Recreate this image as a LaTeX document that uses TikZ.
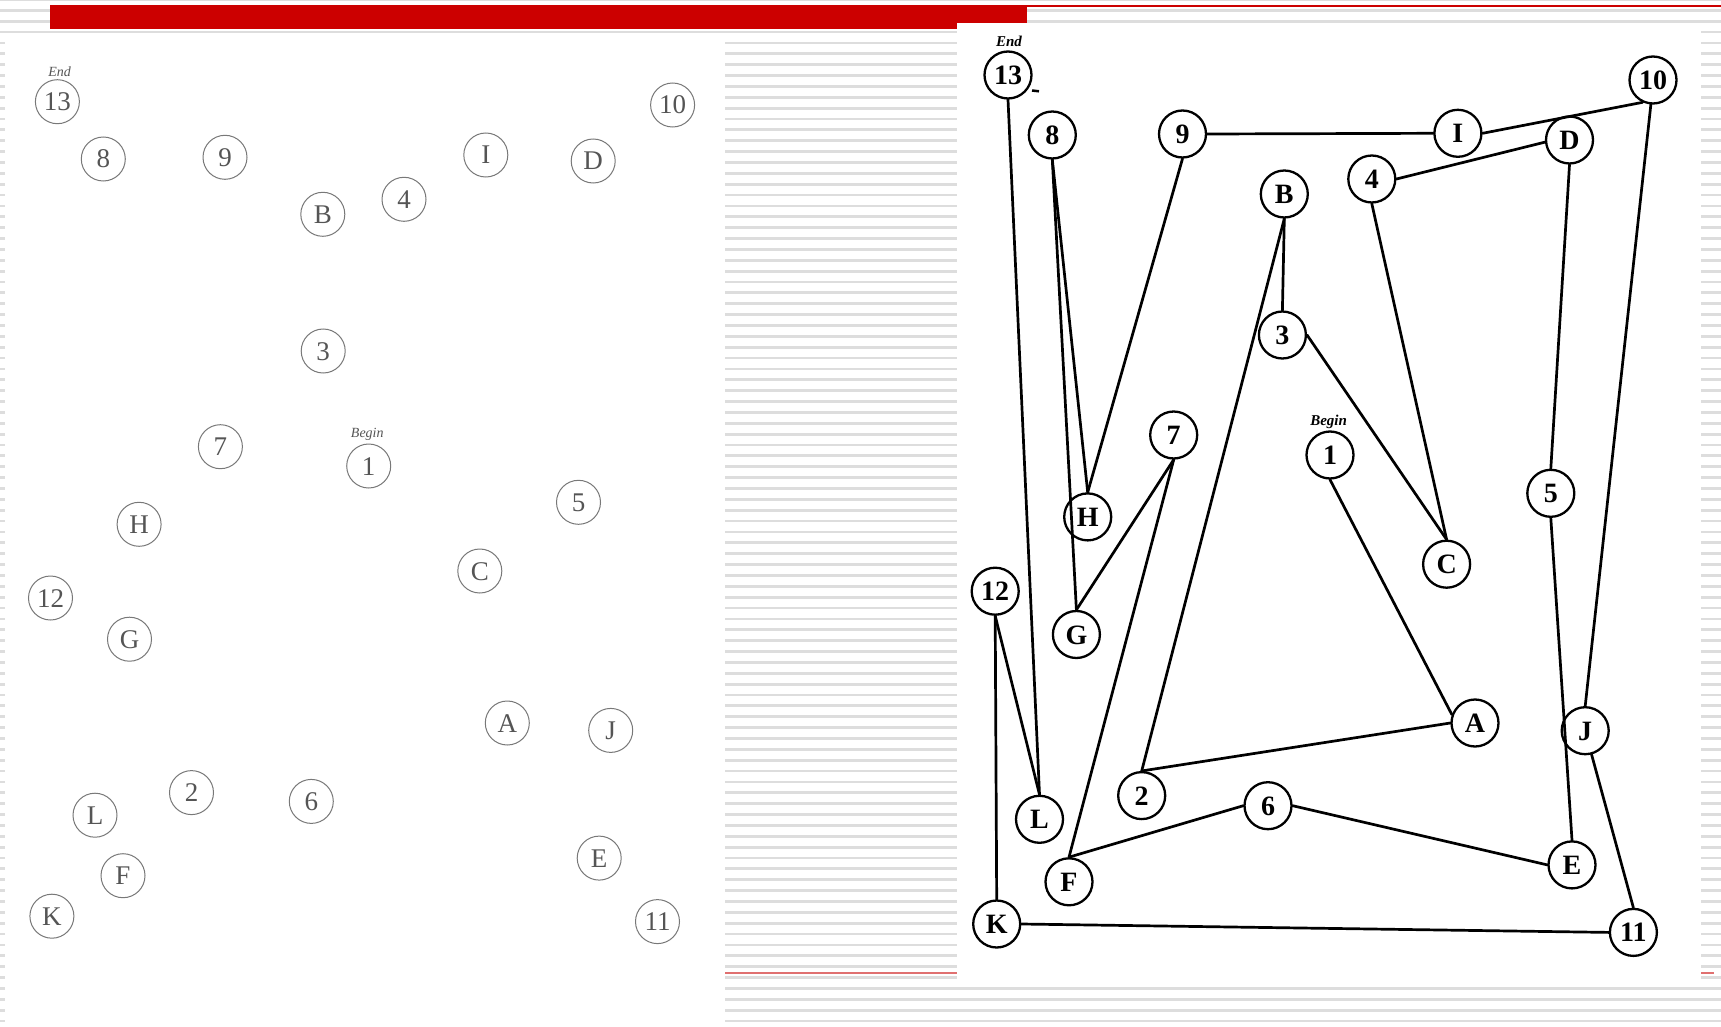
\documentclass[tikz,border=0pt]{standalone}
\usepackage{fontspec}
\setmainfont{Liberation Serif}
\definecolor{slidered}{RGB}{204,0,0}
\definecolor{thinred}{RGB}{224,112,112}
\definecolor{stripegray}{RGB}{221,221,221}
\definecolor{lgray}{RGB}{120,120,120}
\definecolor{ltext}{RGB}{85,85,85}
\begin{document}
\begin{tikzpicture}[x=1pt,y=-1pt,
  lnode/.style={circle, draw=lgray, line width=1pt, minimum size=44pt, inner sep=0pt,
    text=ltext, font=\fontsize{27}{27}\selectfont, text height=18pt, text depth=0pt},
  rnode/.style={circle, draw=black, fill=white, line width=2.3pt, minimum size=47pt, inner sep=0pt,
    font=\fontsize{28}{28}\selectfont\bfseries, text height=19pt, text depth=0pt},
  llabel/.style={inner sep=0pt, text=ltext, font=\fontsize{14}{14}\selectfont\itshape},
  rlabel/.style={inner sep=0pt, font=\fontsize{15}{15}\selectfont\bfseries\itshape},
  edge/.style={line width=2.7pt, line cap=round},
  stripe/.style={line width=2.8pt, draw=stripegray},
]
\useasboundingbox (0,0) rectangle (1721,1027);
\fill[white] (0,0) rectangle (1721,1027);
% striped slide background
\foreach \k in {-1,...,94} {
  \draw[stripe] (0,{10.3+10.868*\k}) -- (1721,{10.3+10.868*\k});
}
% red title bar and thin red rules
\draw[slidered, line width=1.8pt] (1000,5.8) -- (1721,5.8);
\fill[slidered] (50,5) rectangle (1027,29);
\draw[thinred, line width=1.7pt] (725,972.7) -- (1714,972.7);
% panels
\fill[white] (5,34) rectangle (725,1027);
\fill[white] (957,23.3) rectangle (1701,983);

% ---------- left panel ----------
\node[llabel] (lend) at (59.7,71.7) {End};
\node[llabel] (lbegin) at (367.3,434.3) {Begin};
\node[lnode] (l13) at (57.4,101.7) {13};
\node[lnode] (l10) at (672.6,105) {10};
\node[lnode] (l8) at (103.3,159) {8};
\node[lnode] (l9) at (225,157.3) {9};
\node[lnode] (lI) at (485.8,155) {I};
\node[lnode] (lD) at (593.2,161) {D};
\node[lnode] (lB) at (322.8,214.3) {B};
\node[lnode] (l4) at (404,199.3) {4};
\node[lnode] (l3) at (323.2,351) {3};
\node[lnode] (l7) at (220.4,446.7) {7};
\node[lnode] (l1) at (368.7,466) {1};
\node[lnode] (l5) at (578.5,502.3) {5};
\node[lnode] (lH) at (139.1,524.3) {H};
\node[lnode] (lC) at (479.8,571) {C};
\node[lnode] (l12) at (50.5,598) {12};
\node[lnode] (lG) at (129.5,639.2) {G};
\node[lnode] (lA) at (507.3,723) {A};
\node[lnode] (lJ) at (610.7,730.4) {J};
\node[lnode] (l2) at (191.5,792.6) {2};
\node[lnode] (l6) at (311.3,801.4) {6};
\node[lnode] (lL) at (95,815.2) {L};
\node[lnode] (lF) at (123,875.7) {F};
\node[lnode] (lE) at (599.2,858.1) {E};
\node[lnode] (lK) at (51.9,916.2) {K};
\node[lnode] (l11) at (657.5,921.6) {11};

% ---------- right panel ----------
\node[rlabel] (rend) at (1009,41.7) {End};
\node[rlabel] (rbegin) at (1328.6,421.7) {Begin};
\node[rnode] (r13) at (1008,75) {13};
\node[rnode] (r10) at (1653,80) {10};
\node[rnode] (r8) at (1052.3,135) {8};
\node[rnode] (r9) at (1182.5,134) {9};
\node[rnode] (rI) at (1457.9,133.3) {I};
\node[rnode] (rD) at (1569.5,140) {D};
\node[rnode] (r4) at (1371.8,179) {4};
\node[rnode] (rB) at (1284.3,194) {B};
\node[rnode] (r3) at (1282.4,335) {3};
\node[rnode] (r7) at (1173.7,435) {7};
\node[rnode] (r1) at (1330,455) {1};
\node[rnode] (r5) at (1550.8,493.3) {5};
\node[rnode] (rH) at (1087.7,516.9) {H};
\node[rnode] (rC) at (1446.6,564.2) {C};
\node[rnode] (r12) at (995.2,591.2) {12};
\node[rnode] (rG) at (1076.4,634.5) {G};
\node[rnode] (rA) at (1475,723) {A};
\node[rnode] (rJ) at (1585.2,730.7) {J};
\node[rnode] (r2) at (1141.7,795.6) {2};
\node[rnode] (r6) at (1268,805.7) {6};
\node[rnode] (rL) at (1039.5,819.3) {L};
\node[rnode] (rF) at (1069,881.8) {F};
\node[rnode] (rE) at (1572,864.9) {E};
\node[rnode] (rK) at (996.7,924) {K};
\node[rnode] (r11) at (1633.4,932.4) {11};
\coordinate (dashA) at (1032,90.5);
\coordinate (dashB) at (1039,91.3);
\draw[line width=2.5pt] (dashA) -- (dashB);

\draw[edge] (r1.south) -- (rA.160);
\draw[edge] (rA.west) -- (r2.north);
\draw[edge] (r2.north) -- (rB.south);
\draw[edge] (rB.south) -- (r3.north);
\draw[edge] (r3.east) -- (rC.north);
\draw[edge] (rC.north) -- (r4.south);
\draw[edge] (r4.east) -- (rD.185);
\draw[edge] (rD.south) -- (r5.north);
\draw[edge] (r5.south) -- (rE.north);
\draw[edge] (rE.west) -- (r6.east);
\draw[edge] (r6.west) -- (rF.north);
\draw[edge] (rF.north) -- (r7.south);
\draw[edge] (r7.south) -- (rG.north);
\draw[edge] (rG.north) -- (r8.south);
\draw[edge] (r8.south) -- (rH.north);
\draw[edge] (rH.north) -- (r9.south);
\draw[edge] (r9.east) -- (rI.west);
\draw[edge] (rI.east) -- (r10.245);
\draw[edge] (r10.265) -- (rJ.north);
\draw[edge] (rJ.285) -- (r11.north);
\draw[edge] (r11.west) -- (rK.east);
\draw[edge] (rK.north) -- (r12.south);
\draw[edge] (r12.south) -- (rL.north);
\draw[edge] (rL.north) -- (r13.south);
\end{tikzpicture}
\end{document}
